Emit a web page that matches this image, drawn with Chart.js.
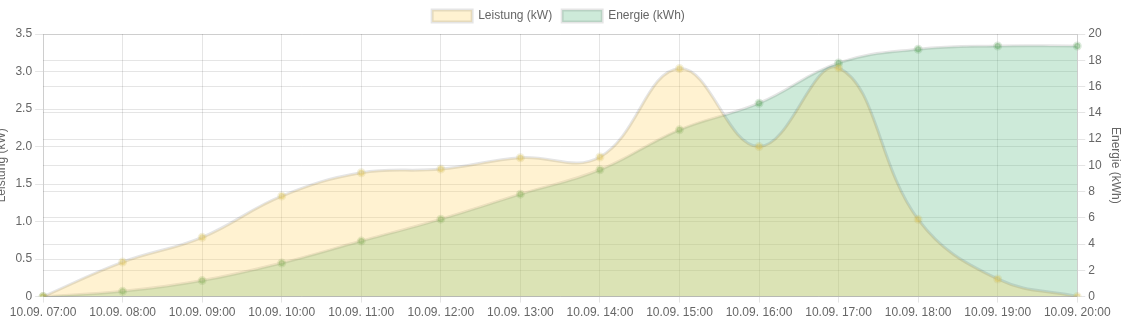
<!DOCTYPE html>
<html>
<head>
<meta charset="utf-8">
<script src="https://cdn.jsdelivr.net/npm/chart.js@4/dist/chart.umd.min.js"></script>
<style>
    html, body { margin: 0; padding: 0; background: #fff; overflow: hidden; }
    #wrap { position: relative; width: 1127px; height: 321px; }
</style>
</head>
<body>
<div id="wrap"><canvas id="energyChart" width="1127" height="321"></canvas></div>
<script>
// Time labels
const labels = ['10.09. 07:00', '10.09. 08:00', '10.09. 09:00', '10.09. 10:00', '10.09. 11:00',
    '10.09. 12:00', '10.09. 13:00', '10.09. 14:00', '10.09. 15:00', '10.09. 16:00',
    '10.09. 17:00', '10.09. 18:00', '10.09. 19:00', '10.09. 20:00'];

// Leistung in kW
const leistung = [0, 0.46, 0.79, 1.34, 1.65, 1.70, 1.85, 1.86, 3.04, 2.0, 3.05, 1.03, 0.235, 0];

// Energie in kWh
const energie = [0, 0.4, 1.22, 2.56, 4.23, 5.9, 7.8, 9.66, 12.7, 14.73, 17.8, 18.84, 19.09, 19.09];

const fontFamily = "'Helvetica Neue', Helvetica, Arial, sans-serif";
Chart.defaults.font.family = fontFamily;
Chart.defaults.font.size = 12;
Chart.defaults.color = '#666';

const gridColor = 'rgba(0, 0, 0, 0.1)';

window.onload = function() {
    const ctx = document.getElementById('energyChart').getContext('2d');
    new Chart(ctx, {
        type: 'line',
        data: {
            labels: labels,
            datasets: [
                {
                    label: 'Leistung (kW)',
                    data: leistung,
                    yAxisID: 'yLeistung',
                    backgroundColor: 'rgba(255, 210, 90, 0.28)',
                    borderColor: 'rgba(0, 0, 0, 0.1)',
                    borderWidth: 3,
                    pointBackgroundColor: 'rgba(230, 200, 80, 0.4)',
                    pointBorderColor: 'rgba(200, 180, 80, 0.2)',
                    pointRadius: 3,
                    fill: 'origin',
                    tension: 0.4
                },
                {
                    label: 'Energie (kWh)',
                    data: energie,
                    yAxisID: 'yEnergie',
                    backgroundColor: 'rgba(75, 180, 120, 0.28)',
                    borderColor: 'rgba(0, 0, 0, 0.1)',
                    borderWidth: 3,
                    pointBackgroundColor: 'rgba(90, 170, 90, 0.4)',
                    pointBorderColor: 'rgba(80, 150, 80, 0.2)',
                    pointRadius: 3,
                    fill: 'origin',
                    tension: 0.4
                }
            ]
        },
        options: {
            responsive: false,
            animation: false,
            layout: { padding: { left: -10, right: 0, top: 0, bottom: -2 } },
            plugins: {
                legend: {
                    labels: { boxWidth: 40, boxHeight: 12, padding: 10 }
                },
                tooltip: { enabled: false }
            },
            scales: {
                x: {
                    grid: { color: gridColor, tickLength: 6 },
                    ticks: { maxRotation: 0, autoSkip: false }
                },
                yLeistung: {
                    position: 'left',
                    min: 0,
                    max: 3.5,
                    // room above the plot so its top edge sits where the reference has it
                    afterFit: axis => { axis.paddingTop = 0; },
                    ticks: { stepSize: 0.5, callback: v => v === 0 ? '0' : v.toFixed(1) },
                    grid: { color: gridColor, tickLength: 8 },
                    title: { display: true, text: 'Leistung (kW)' }
                },
                yEnergie: {
                    position: 'right',
                    min: 0,
                    max: 20,
                    ticks: { stepSize: 2 },
                    grid: { color: gridColor, tickLength: 8 },
                    title: { display: true, text: 'Energie (kWh)' }
                }
            }
        },
        plugins: [{
            id: 'legendGap',
            afterInit(chart) {
                // push the plot area down a little below the legend
                const fit = chart.legend.fit;
                chart.legend.fit = function() {
                    fit.call(this);
                    this.height += 2;
                };
            }
        }]
    });
};
</script>
</body>
</html>
